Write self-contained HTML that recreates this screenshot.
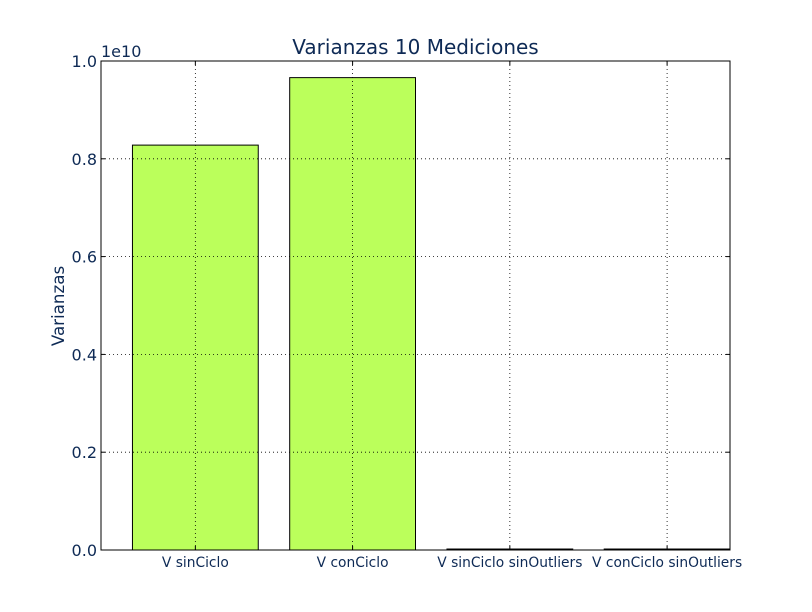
<!DOCTYPE html>
<html><head><meta charset="utf-8"><style>
body{margin:0;background:#fff;}
svg{display:block;font-family:"DejaVu Sans","Liberation Sans",sans-serif;}
</style></head><body>
<svg id="chart" width="812" height="612"></svg>
<script>
const categories=["V sinCiclo","V conCiclo","V sinCiclo sinOutliers","V conCiclo sinOutliers"];
const values=[0.828e10,0.966e10,0.002e10,0.002e10];
const yTicks=[0,0.2e10,0.4e10,0.6e10,0.8e10,1.0e10];
const yTickLabels=["0.0","0.2","0.4","0.6","0.8","1.0"];
const NS="http://www.w3.org/2000/svg";
const svg=document.getElementById('chart');
const L=101,R=730,T=61,B=550;
const slot=(R-L)/4;
function xs(i){return L+(i+0.2)*slot;}
function ys(v){return B-(v/1e10)*(B-T);}
function mk(tag,attrs,text){const e=document.createElementNS(NS,tag);for(const k in attrs)e.setAttribute(k,attrs[k]);if(text!==undefined)e.textContent=text;svg.appendChild(e);return e;}
const col="#0e2a55";
values.forEach((v,i)=>{
 const r=mk('rect',{x:xs(i),y:ys(v),width:0.8*slot,height:B-ys(v),fill:"#bbff5b",stroke:"#000","stroke-width":1});
 
 
});
categories.forEach((c,i)=>{
 const cx=xs(i)+0.4*slot;
 const g=mk('line',{x1:cx,x2:cx,y1:T,y2:B,stroke:"#000","stroke-dasharray":"1,3","stroke-width":0.8});
 
 
 mk('line',{x1:cx,x2:cx,y1:B,y2:B-4,stroke:"#000"});
 mk('line',{x1:cx,x2:cx,y1:T,y2:T+4,stroke:"#000"});
 const t=mk('text',{x:cx,y:567,"text-anchor":"middle","font-size":13.8,fill:col},c);
 
 
});
yTicks.forEach((v,i)=>{
 const y=ys(v);
 const g=mk('line',{x1:L,x2:R,y1:y,y2:y,stroke:"#000","stroke-dasharray":"1,3","stroke-width":0.8});
 
 
 mk('line',{x1:L,x2:L+4,y1:y,y2:y,stroke:"#000"});
 mk('line',{x1:R,x2:R-4,y1:y,y2:y,stroke:"#000"});
 const t=mk('text',{x:L-4,y:y+6,"text-anchor":"end","font-size":16,fill:col},yTickLabels[i]);
 
 
});
const fr=mk('rect',{x:L,y:T,width:R-L,height:B-T,fill:"none",stroke:"#000","stroke-width":1});


const ti=mk('text',{x:(L+R)/2,y:54,"text-anchor":"middle","font-size":20,fill:col},"Varianzas 10 Mediciones");


const of=mk('text',{x:L,y:57,"font-size":16,fill:col},"1e10");


const yl=mk('text',{x:64,y:306,"text-anchor":"middle","font-size":16.7,fill:col,transform:"rotate(-90 64 306)"},"Varianzas");


</script>
</body></html>
